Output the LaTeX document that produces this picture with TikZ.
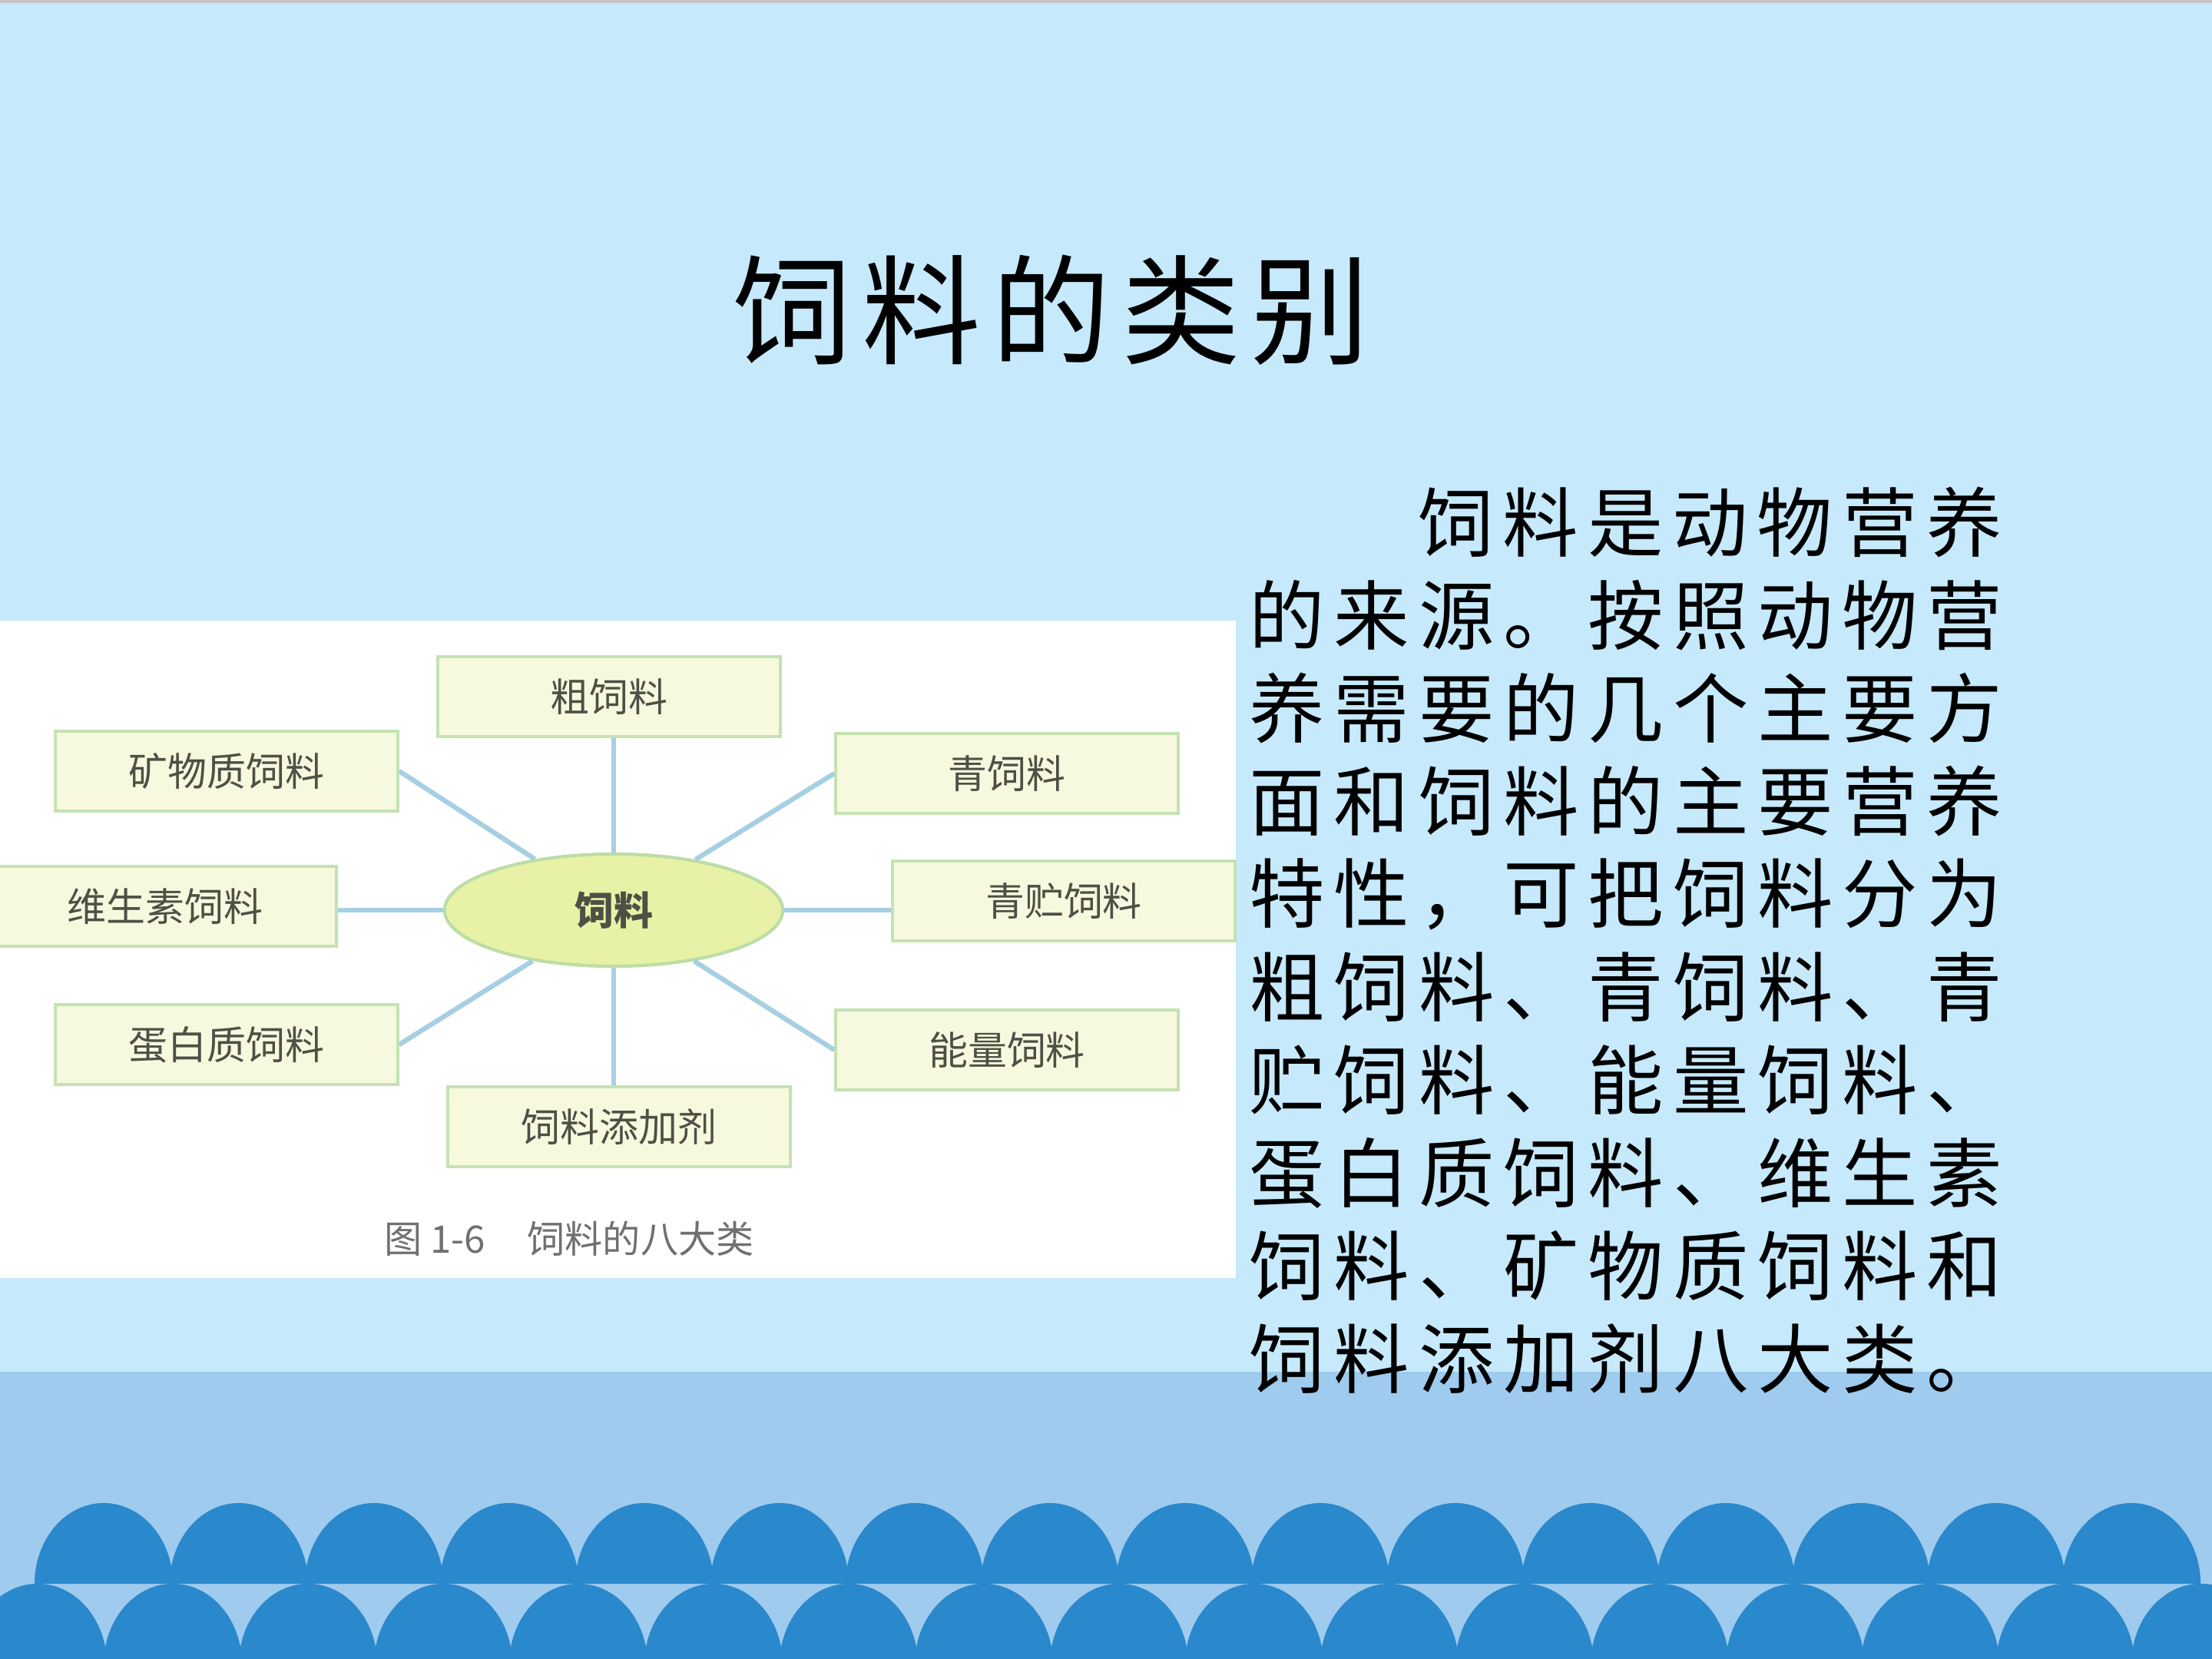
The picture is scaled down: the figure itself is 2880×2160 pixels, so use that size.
\documentclass[tikz,border=0pt]{standalone}
\usepackage{fontspec}
\setmainfont{Noto Sans CJK SC}
\newfontfamily\titlefont[LetterSpace=9]{Noto Sans CJK SC}
\newfontfamily\bodyfont[LetterSpace=12]{Noto Sans CJK SC}
\usetikzlibrary{shapes.geometric}

\definecolor{skytop}{HTML}{C6E9FB}
\definecolor{seaband}{HTML}{9ECBEE}
\definecolor{wavec}{HTML}{2A88CC}
\definecolor{boxfill}{HTML}{F6F9DE}
\definecolor{boxline}{HTML}{C4E2B2}
\definecolor{hubfill}{HTML}{E8F2A6}
\definecolor{hubline}{HTML}{BCDDA6}
\definecolor{linkblue}{HTML}{A7CFE2}
\definecolor{labeltext}{HTML}{4F4F45}
\definecolor{capgray}{HTML}{707070}

\begin{document}
\begin{tikzpicture}[x=0.01cm, y=-0.01cm,
    leaf/.style={draw=boxline, line width=1.2pt, fill=boxfill,
                 minimum width=4.45cm, minimum height=1.04cm,
                 font=\fontsize{14.5}{16}\selectfont, text=labeltext},
    hub/.style={ellipse, draw=hubline, line width=1.2pt, fill=hubfill,
                minimum width=4.4cm, minimum height=1.46cm,
                font=\bfseries\fontsize{14.5}{16}\selectfont, text=labeltext},
    link/.style={line width=1.8pt, linkblue},
    para/.style={anchor=west, inner sep=0pt,
                 font=\bodyfont\fontsize{28}{34}\selectfont},
    wave/.style={fill=wavec},
]
\useasboundingbox (0,0) rectangle (2880,2160);

% Background
\fill[skytop] (0,0) rectangle (2880,2160);
\fill[gray!45] (0,0) rectangle (2880,4);
\fill[seaband] (0,1786) rectangle (2880,2160);

% Waves: upper row, then lower row
\foreach \k in {0,...,15}{
  \fill[wave] ({45+176*\k},2062) arc[start angle=180, end angle=0,
      x radius=0.9cm, y radius=1.05cm] -- cycle;
}
\foreach \k in {0,...,16}{
  \fill[wave] ({-41+176*\k},2167) arc[start angle=180, end angle=0,
      x radius=0.9cm, y radius=1.05cm] -- cycle;
}

% Title
\node[font=\titlefont\fontsize{44}{50}\selectfont] (title) at (1369,404) {饲料的类别};

% Figure panel
\fill[white] (0,808) rectangle (1609,1664);

\node[hub]  (feed)     at (799,1185) {饲料};
\node[leaf] (coarse)   at (793,907)  {粗饲料};
\node[leaf] (mineral)  at (295,1004) {矿物质饲料};
\node[leaf] (green)    at (1311,1007) {青饲料};
\node[leaf] (vitamin)  at (215,1180) {维生素饲料};
\node[leaf] (silage)   at (1385,1173) {青贮饲料};
\node[leaf] (protein)  at (295,1360) {蛋白质饲料};
\node[leaf] (energy)   at (1311,1367) {能量饲料};
\node[leaf] (additive) at (806,1467) {饲料添加剂};

\draw[link] (feed.north) -- (feed.north |- coarse.south);
\draw[link] (feed.south) -- (feed.south |- additive.north);
\draw[link] (feed.west) -- (feed.west -| vitamin.east);
\draw[link] (feed.east) -- (feed.east -| silage.west);
\draw[link] (feed) -- (mineral.east);
\draw[link] (feed) -- (green.west);
\draw[link] (feed) -- (protein.east);
\draw[link] (feed) -- (energy.west);

\node[font=\fontsize{14}{16}\selectfont, text=capgray] (caption) at (741,1613)
  {图 1-6\hspace{1.1em}饲料的八大类};

% Text on the right
\node[para] (line0) at (1846,680) {饲料是动物营养};
\foreach \t [count=\i] in {的来源。按照动物营, 养需要的几个主要方,
    面和饲料的主要营养, 特性，可把饲料分为, 粗饲料、青饲料、青,
    贮饲料、能量饲料、, 蛋白质饲料、维生素, 饲料、矿物质饲料和,
    饲料添加剂八大类。}{
  \node[para] (line\i) at (1626,{680+121*\i}) {\t};
}

\end{tikzpicture}
\end{document}
